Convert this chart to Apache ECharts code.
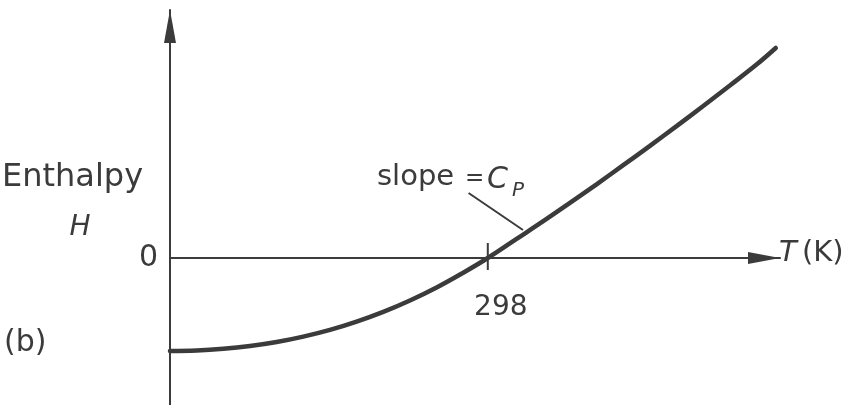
<!DOCTYPE html>
<html>
<head>
<meta charset="utf-8">
<script src="https://cdn.jsdelivr.net/npm/echarts@6/dist/echarts.min.js"></script>
<style>
  html, body { margin: 0; padding: 0; background: #ffffff; }
  #chart { width: 851px; height: 405px; }
</style>
</head>
<body>
<div id="chart"></div>
<script>
// Temperature (K) and enthalpy H (arbitrary units, H = 0 at 298 K)
const temps = [0, 25, 50, 75, 100, 125, 150, 175, 200, 225, 250, 275, 298,
               325, 350, 375, 400, 425, 450, 475, 500, 525, 550, 568];
const enthalpy = [-9.3, -9.25, -9.08, -8.8, -8.4, -7.86, -7.19, -6.36, -5.39, -4.25, -2.95, -1.47, 0,
                  1.91, 3.68, 5.51, 7.37, 9.28, 11.21, 13.19, 15.2, 17.25, 19.34, 21.0];
// Reference temperature marked on the T axis
const refTemp = [298];
const refTempLabels = ['298'];
// Short tick across the axis at the reference temperature
const tickH = [1.5, -1.2];
// Leader line from the slope label to the curve: [T, H] pairs
const leaderStart = [280, 6.5];
const leaderEnd = [331, 2.8];

const ink = '#3b3b3b';
const font = 'DejaVu Sans';

const curve = temps.map((t, i) => [t, enthalpy[i]]);

const chart = echarts.init(document.getElementById('chart'), null, { renderer: 'canvas' });

chart.setOption({
  backgroundColor: '#ffffff',
  animation: false,
  grid: { left: 170, right: 71, top: 10, bottom: 0, containLabel: false, outerBoundsMode: 'none' },
  xAxis: {
    type: 'value',
    min: 0,
    max: 572,
    splitLine: { show: false },
    axisTick: { show: false },
    axisLabel: { show: false },
    axisLine: {
      onZero: true,
      symbol: ['none', 'triangle'],
      symbolSize: [12, 32],
      symbolOffset: [0, -16],
      lineStyle: { color: ink, width: 2 }
    }
  },
  yAxis: {
    type: 'value',
    min: -14.7,
    max: 24.8,
    splitLine: { show: false },
    axisTick: { show: false },
    axisLine: {
      onZero: false,
      symbol: ['none', 'triangle'],
      symbolSize: [12, 33],
      symbolOffset: [0, -16.5],
      lineStyle: { color: ink, width: 2 }
    },
    axisLabel: {
      customValues: [0],
      color: ink,
      fontFamily: font,
      fontSize: 30,
      margin: 12
    }
  },
  series: [
    {
      type: 'line',
      data: curve,
      smooth: 0.4,
      symbol: 'none',
      lineStyle: { color: ink, width: 4.5, cap: 'round' },
      z: 5
    },
    {
      // tick crossing the T axis at 298 K
      type: 'line',
      data: [[refTemp[0], tickH[0]], [refTemp[0], tickH[1]]],
      symbol: 'none',
      lineStyle: { color: ink, width: 2 },
      z: 4
    },
    {
      // label under the 298 K tick
      type: 'scatter',
      data: [[refTemp[0], tickH[1]]],
      symbolSize: 1,
      itemStyle: { color: 'rgba(255,255,255,0)' },
      label: {
        show: true,
        position: 'bottom',
        distance: 23,
        offset: [13, 0],
        formatter: () => refTempLabels[0],
        color: ink,
        opacity: 1,
        textBorderWidth: 0,
        fontFamily: font,
        fontSize: 28
      },
      emphasis: { disabled: true },
      z: 4
    },
    {
      type: 'line',
      data: [leaderStart, leaderEnd],
      symbol: 'none',
      lineStyle: { color: ink, width: 2 },
      z: 4
    }
  ],
  graphic: [
    { type: 'text', x: 2, y: 178, style: { text: 'Enthalpy', font: '32px "DejaVu Sans"', fill: ink, align: 'left', verticalAlign: 'middle' } },
    { type: 'text', x: 80, y: 228, style: { text: 'H', font: 'italic 28px "DejaVu Sans"', fill: ink, align: 'center', verticalAlign: 'middle' } },
    { type: 'text', x: 4, y: 343, style: { text: '(b)', font: '30px "DejaVu Sans"', fill: ink, align: 'left', verticalAlign: 'middle' } },
    { type: 'text', x: 377, y: 177, style: { text: 'slope', font: '29px "DejaVu Sans"', fill: ink, align: 'left', verticalAlign: 'middle' } },
    { type: 'text', x: 465, y: 179, style: { text: '=', font: '23px "DejaVu Sans"', fill: ink, align: 'left', verticalAlign: 'middle' } },
    { type: 'text', x: 487, y: 180, style: { text: 'C', font: 'italic 30px "DejaVu Sans"', fill: ink, align: 'left', verticalAlign: 'middle' } },
    { type: 'text', x: 512, y: 191, style: { text: 'P', font: 'italic 20px "DejaVu Sans"', fill: ink, align: 'left', verticalAlign: 'middle' } },
    { type: 'text', x: 779, y: 253, style: { text: 'T', font: 'italic 29px "DejaVu Sans"', fill: ink, align: 'left', verticalAlign: 'middle' } },
    { type: 'text', x: 802, y: 253, style: { text: '(K)', font: '29px "DejaVu Sans"', fill: ink, align: 'left', verticalAlign: 'middle' } }
  ]
});
</script>
</body>
</html>
